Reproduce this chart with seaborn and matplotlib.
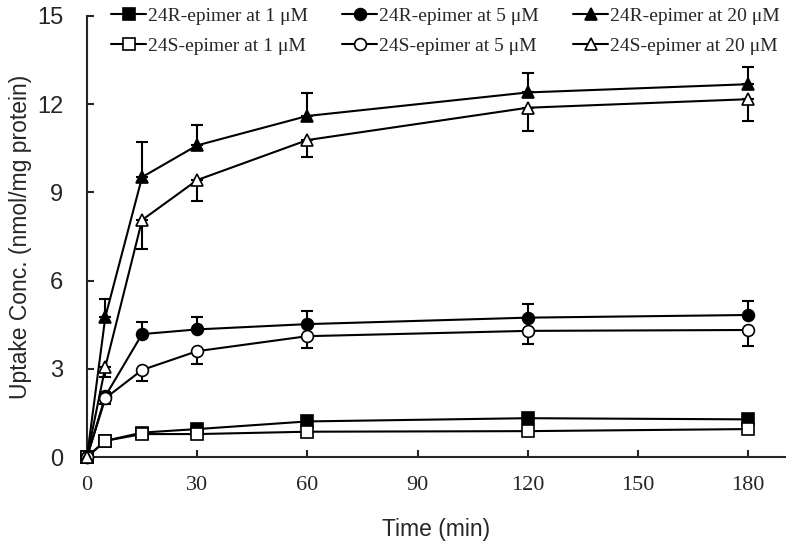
import numpy as np
import pandas as pd
import matplotlib
matplotlib.use('Agg')
import matplotlib.pyplot as plt
import seaborn as sns

# time points (min)
time = [0, 5, 15, 30, 60, 120, 180]

# uptake (nmol/mg protein) and SD
r1 = [0, 0.55, 0.83, 0.95, 1.21, 1.32, 1.28]
r1_err = [0, 0.05, 0.06, 0.06, 0.08, 0.08, 0.08]
r5 = [0, 2.07, 4.18, 4.34, 4.52, 4.74, 4.83]
r5_err = [0, 0.15, 0.40, 0.43, 0.45, 0.46, 0.47]
r20 = [0, 4.77, 9.52, 10.6, 11.6, 12.4, 12.68]
r20_err = [0, 0.60, 1.20, 0.70, 0.78, 0.65, 0.60]

s1 = [0, 0.55, 0.78, 0.78, 0.86, 0.88, 0.95]
s1_err = [0, 0.05, 0.05, 0.05, 0.06, 0.06, 0.06]
s5 = [0, 2.0, 2.96, 3.6, 4.11, 4.29, 4.32]
s5_err = [0, 0.20, 0.36, 0.44, 0.39, 0.45, 0.53]
s20 = [0, 3.07, 8.06, 9.42, 10.78, 11.88, 12.17]
s20_err = [0, 0.34, 1.0, 0.72, 0.58, 0.78, 0.73]

series = [
    ('24R-epimer at 1 \u03bcM', r1, r1_err, 's', 'black', 'up'),
    ('24S-epimer at 1 \u03bcM', s1, s1_err, 's', 'white', 'down'),
    ('24R-epimer at 5 \u03bcM', r5, r5_err, 'o', 'black', 'up'),
    ('24S-epimer at 5 \u03bcM', s5, s5_err, 'o', 'white', 'down'),
    ('24R-epimer at 20 \u03bcM', r20, r20_err, '^', 'black', 'up'),
    ('24S-epimer at 20 \u03bcM', s20, s20_err, '^', 'white', 'down'),
]

sns.set_style('ticks')

fig = plt.figure(figsize=(7.93, 5.46), dpi=100)
ax = fig.add_axes([0.1097, 0.163, 0.880, 0.8077])

for label, vals, err, mk, face, direction in series:
    df = pd.DataFrame({'Time': time, 'Uptake': vals})
    e = np.array(err)
    zeros = np.zeros_like(e)
    yerr = [zeros, e] if direction == 'up' else [e, zeros]
    ax.errorbar(time, vals, yerr=yerr, fmt='none', ecolor='black',
                elinewidth=1.5, capsize=4, capthick=1.5, zorder=2)
    sns.lineplot(data=df, x='Time', y='Uptake', ax=ax, color='black',
                 linewidth=1.5, marker=mk, markersize=8.5,
                 markerfacecolor=face, markeredgecolor='black',
                 markeredgewidth=1.2, label=label, zorder=3, clip_on=False)

ax.set_xlim(0, 190)
ax.set_ylim(0, 15)
ax.set_xticks([0, 30, 60, 90, 120, 150, 180])
ax.set_yticks([0, 3, 6, 9, 12, 15])
ax.tick_params(direction='in', length=5, width=1.5)
ax.tick_params(axis='x', pad=14)
ax.tick_params(axis='y', pad=17)
for t in ax.get_xticklabels():
    t.set_fontfamily('Liberation Serif')
    t.set_fontsize(16)
for t in ax.get_yticklabels():
    t.set_fontfamily('Liberation Sans')
    t.set_fontsize(17)

for side in ['top', 'right']:
    ax.spines[side].set_visible(False)
for side in ['left', 'bottom']:
    ax.spines[side].set_linewidth(1.5)

ax.set_xlabel('Time (min)', fontfamily='Liberation Sans', fontsize=16.5, labelpad=16)
ax.set_ylabel('Uptake Conc. (nmol/mg protein)', fontfamily='Liberation Sans',
              fontsize=16.5, labelpad=4)

ax.legend(ncol=3, frameon=False, loc='upper left', bbox_to_anchor=(0.01, 1.06),
          prop={'family': 'Liberation Serif', 'size': 14},
          handlelength=1.8, columnspacing=1.75, labelspacing=0.66, handletextpad=0.1)

fig.savefig('out.png', dpi=100)
